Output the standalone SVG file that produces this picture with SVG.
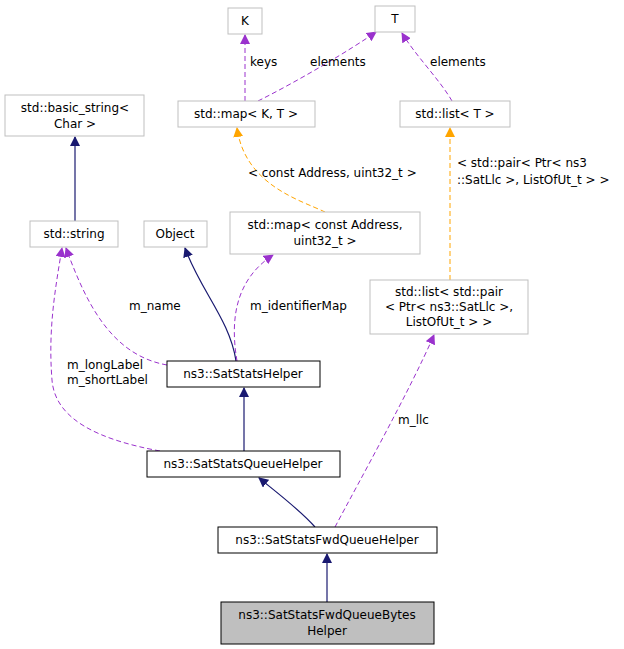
<svg xmlns="http://www.w3.org/2000/svg" width="624" height="649" viewBox="0 0 624 649">
<style>
text{font-family:"DejaVu Sans","Liberation Sans",sans-serif;font-size:12px;fill:#000}
.n{fill:#fff;stroke:#bfbfbf;stroke-width:1}
.b{fill:#fff;stroke:#000;stroke-width:1}
.g{fill:#bfbfbf;stroke:#000;stroke-width:1}
.i{fill:none;stroke:#191970;stroke-width:1.2}
.u{fill:none;stroke:#9a32cd;stroke-width:1;stroke-dasharray:5,3}
.t{fill:none;stroke:#ffa500;stroke-width:1;stroke-dasharray:5,3}
</style>
<defs>
<marker id="ai" markerWidth="10" markerHeight="10" refX="9" refY="5" orient="auto" markerUnits="userSpaceOnUse"><path d="M0,0L10,5L0,10z" fill="#191970"/></marker>
<marker id="au" markerWidth="10" markerHeight="10" refX="9" refY="5" orient="auto" markerUnits="userSpaceOnUse"><path d="M0,0L10,5L0,10z" fill="#9a32cd"/></marker>
<marker id="at" markerWidth="10" markerHeight="10" refX="9" refY="5" orient="auto" markerUnits="userSpaceOnUse"><path d="M0,0L10,5L0,10z" fill="#ffa500"/></marker>
</defs>
<g id="edges">
<path class="i" d="M75,221V137" marker-end="url(#ai)"/>
<path class="i" d="M236,361C230,320 200,290 185,248" marker-end="url(#ai)"/>
<path class="i" d="M244,451V388" marker-end="url(#ai)"/>
<path class="i" d="M315,527C300,510 280,495 259,478" marker-end="url(#ai)"/>
<path class="i" d="M327,602V554" marker-end="url(#ai)"/>
<path class="u" d="M245,101V35" marker-end="url(#au)"/>
<path class="u" d="M258,101C300,80 350,50 376,32" marker-end="url(#au)"/>
<path class="u" d="M452,101C440,80 415,55 402,33" marker-end="url(#au)"/>
<path class="t" d="M325,212C300,200 245,185 237,128" marker-end="url(#at)"/>
<path class="t" d="M450,280V128" marker-end="url(#at)"/>
<path class="u" d="M167,365C110,355 85,300 66,248" marker-end="url(#au)"/>
<path class="u" d="M237,361C230,320 235,280 273,255" marker-end="url(#au)"/>
<path class="u" d="M160,451C100,440 55,420 52,380C48,330 55,290 62,248" marker-end="url(#au)"/>
<path class="u" d="M335,527C360,480 410,390 434,335" marker-end="url(#au)"/>
</g>
<g id="labels">
<text x="250" y="66">keys</text>
<text x="310" y="66">elements</text>
<text x="430" y="66">elements</text>
<text x="248" y="177">&lt; const Address, uint32_t &gt;</text>
<text x="457" y="167">&lt; std::pair&lt; Ptr&lt; ns3</text>
<text x="457" y="184">::SatLlc &gt;, ListOfUt_t &gt; &gt;</text>
<text x="129" y="310">m_name</text>
<text x="250" y="310">m_identifierMap</text>
<text x="67" y="369">m_longLabel</text>
<text x="67" y="384">m_shortLabel</text>
<text x="398" y="424">m_llc</text>
</g>
<g id="K"><rect class="n" x="228" y="8" width="34" height="26"/><text x="245" y="25" text-anchor="middle">K</text></g>
<g id="T"><rect class="n" x="375" y="6" width="40" height="26"/><text x="395" y="23" text-anchor="middle">T</text></g>
<g id="basic_string"><rect class="n" x="5" y="95" width="139" height="41"/><text x="75" y="112" text-anchor="middle">std::basic_string&lt;</text><text x="75" y="128" text-anchor="middle">Char &gt;</text></g>
<g id="mapKT"><rect class="n" x="178" y="101" width="137" height="26"/><text x="246" y="118" text-anchor="middle">std::map&lt; K, T &gt;</text></g>
<g id="listT"><rect class="n" x="400" y="101" width="110" height="26"/><text x="455" y="118" text-anchor="middle">std::list&lt; T &gt;</text></g>
<g id="string"><rect class="n" x="30" y="221" width="88" height="26"/><text x="74" y="238" text-anchor="middle">std::string</text></g>
<g id="Object"><rect class="n" x="144" y="221" width="63" height="26"/><text x="175" y="238" text-anchor="middle">Object</text></g>
<g id="mapAddr"><rect class="n" x="230" y="212" width="190" height="42"/><text x="325" y="229" text-anchor="middle">std::map&lt; const Address,</text><text x="325" y="245" text-anchor="middle">uint32_t &gt;</text></g>
<g id="listPair"><rect class="n" x="370" y="280" width="158" height="54"/><text x="449" y="296" text-anchor="middle">std::list&lt; std::pair</text><text x="449" y="311" text-anchor="middle">&lt; Ptr&lt; ns3::SatLlc &gt;,</text><text x="449" y="326" text-anchor="middle">ListOfUt_t &gt; &gt;</text></g>
<g id="SatStatsHelper"><rect class="b" x="167" y="361" width="153" height="26"/><text x="243" y="378" text-anchor="middle">ns3::SatStatsHelper</text></g>
<g id="SatStatsQueueHelper"><rect class="b" x="147" y="451" width="193" height="26"/><text x="243" y="468" text-anchor="middle">ns3::SatStatsQueueHelper</text></g>
<g id="SatStatsFwdQueueHelper"><rect class="b" x="218" y="527" width="219" height="26"/><text x="327" y="544" text-anchor="middle">ns3::SatStatsFwdQueueHelper</text></g>
<g id="SatStatsFwdQueueBytesHelper"><rect class="g" x="221" y="602" width="213" height="42"/><text x="327" y="619" text-anchor="middle">ns3::SatStatsFwdQueueBytes</text><text x="327" y="635" text-anchor="middle">Helper</text></g>
</svg>
